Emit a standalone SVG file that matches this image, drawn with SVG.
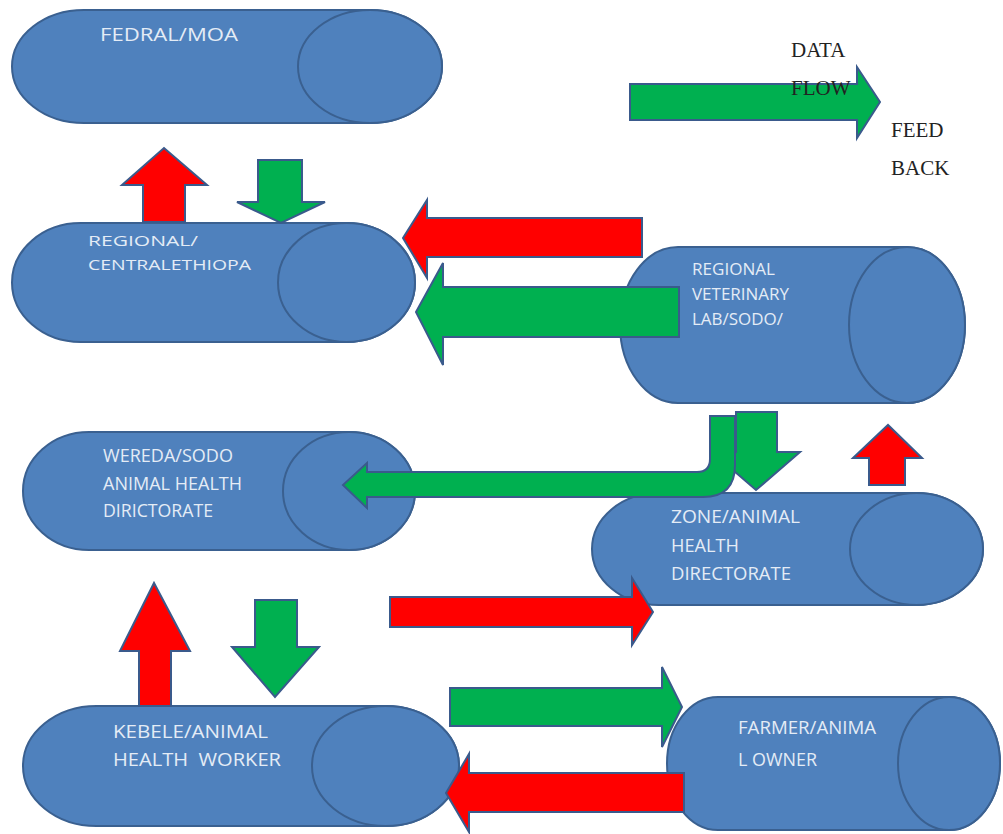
<svg xmlns="http://www.w3.org/2000/svg" width="1003" height="834" viewBox="0 0 1003 834">
<style>
.cyl{fill:#4F81BD;stroke:#3A6090;stroke-width:2}
.lbl{fill:#E4ECF6;font-family:"Open Sans","Liberation Sans",sans-serif;font-size:18px}
.red{fill:#FF0000;stroke:#3A5A8C;stroke-width:2;stroke-linejoin:miter}
.grn{fill:#00B050;stroke:#3A5A8C;stroke-width:2;stroke-linejoin:miter}
.leg{fill:#222;font-family:"Liberation Serif","Times New Roman",serif;font-size:21px}
</style>
<rect width="1003" height="834" fill="#fff"/>

<g id="node-fedral">
<path class="cyl" d="M84,10 H370 A72,56.5 0 0 1 370,123 H84 A72,56.5 0 0 1 84,10 Z"/>
<ellipse class="cyl" cx="370" cy="66.5" rx="72" ry="56.5"/>
<text class="lbl" x="100" y="41" textLength="138" lengthAdjust="spacingAndGlyphs">FEDRAL/MOA</text>
</g>

<g id="node-regional">
<path class="cyl" d="M80.5,223 H346.5 A68.5,59.5 0 0 1 346.5,342 H80.5 A68.5,59.5 0 0 1 80.5,223 Z"/>
<ellipse class="cyl" cx="346.5" cy="282.5" rx="68.5" ry="59.5"/>
<text class="lbl" style="font-size:14px"><tspan x="88" y="246" textLength="110" lengthAdjust="spacingAndGlyphs">REGIONAL/</tspan><tspan x="88" y="270" textLength="163" lengthAdjust="spacingAndGlyphs">CENTRALETHIOPA</tspan></text>
</g>

<g id="node-vetlab">
<path class="cyl" d="M678,247 H907 A58,78 0 0 1 907,403 H678 A58,78 0 0 1 678,247 Z"/>
<ellipse class="cyl" cx="907" cy="325" rx="58" ry="78"/>
<text class="lbl" style="font-size:17px"><tspan x="692" y="275" textLength="83" lengthAdjust="spacingAndGlyphs">REGIONAL</tspan><tspan x="692" y="300" textLength="97" lengthAdjust="spacingAndGlyphs">VETERINARY</tspan><tspan x="692" y="325" textLength="91" lengthAdjust="spacingAndGlyphs">LAB/SODO/</tspan></text>
</g>

<g id="node-wereda">
<path class="cyl" d="M89,432 H349 A66,59 0 0 1 349,550 H89 A66,59 0 0 1 89,432 Z"/>
<ellipse class="cyl" cx="349" cy="491" rx="66" ry="59"/>
<text class="lbl"><tspan x="103" y="462" textLength="130" lengthAdjust="spacingAndGlyphs">WEREDA/SODO</tspan><tspan x="103" y="490" textLength="139" lengthAdjust="spacingAndGlyphs">ANIMAL HEALTH</tspan><tspan x="103" y="517" textLength="110" lengthAdjust="spacingAndGlyphs">DIRICTORATE</tspan></text>
</g>

<g id="node-zone">
<path class="cyl" d="M658.5,493 H916.5 A66.5,56 0 0 1 916.5,605 H658.5 A66.5,56 0 0 1 658.5,493 Z"/>
<ellipse class="cyl" cx="916.5" cy="549" rx="66.5" ry="56"/>
<text class="lbl"><tspan x="671" y="523" textLength="129" lengthAdjust="spacingAndGlyphs">ZONE/ANIMAL</tspan><tspan x="671" y="552" textLength="68" lengthAdjust="spacingAndGlyphs">HEALTH</tspan><tspan x="671" y="580" textLength="120" lengthAdjust="spacingAndGlyphs">DIRECTORATE</tspan></text>
</g>

<g id="node-kebele">
<path class="cyl" d="M96.5,706 H385.5 A73.5,60 0 0 1 385.5,826 H96.5 A73.5,60 0 0 1 96.5,706 Z"/>
<ellipse class="cyl" cx="385.5" cy="766" rx="73.5" ry="60"/>
<text class="lbl" xml:space="preserve"><tspan x="113" y="738" textLength="155" lengthAdjust="spacingAndGlyphs">KEBELE/ANIMAL</tspan><tspan x="113" y="766" textLength="168" lengthAdjust="spacingAndGlyphs">HEALTH  WORKER</tspan></text>
</g>

<g id="node-farmer">
<path class="cyl" d="M718,697 H949 A51,66.5 0 0 1 949,830 H718 A51,66.5 0 0 1 718,697 Z"/>
<ellipse class="cyl" cx="949" cy="763.5" rx="51" ry="66.5"/>
<text class="lbl"><tspan x="738" y="734" textLength="138" lengthAdjust="spacingAndGlyphs">FARMER/ANIMA</tspan><tspan x="738" y="766" textLength="79" lengthAdjust="spacingAndGlyphs">L OWNER</tspan></text>
</g>

<g id="connectors">
<!-- regional -> federal (feedback up) -->
<path class="red" d="M143,222 V185 H122 L164,148 L207,185 H185 V222 Z"/>
<!-- federal -> regional (data down) -->
<path class="grn" d="M258,160 H302 V202 H325 L281,223 L237,202 H258 Z"/>
<!-- vet lab -> regional feedback -->
<path class="red" d="M642,218 V257 H427 V278 L403,238 L427,200 V218 Z"/>
<!-- vet lab -> regional data -->
<path class="grn" d="M679,287 V337 H443 V365 L416,312 L443,263 V287 Z"/>
<!-- vet lab -> zone data -->
<path class="grn" d="M736,412 H777 V452 H800 L756,490 L712,452 H736 Z"/>
<!-- vet lab -> wereda bent data -->
<path class="grn" d="M710,416 H735 V465 Q735,497 703,497 H367 V508 L343,485 L367,463 V472 H697 Q710,472 710,459 Z"/>
<!-- zone -> vet lab feedback -->
<path class="red" d="M869,485 V458 H853 L888,425 L922,458 H905 V485 Z"/>
<!-- wereda -> zone feedback -->
<path class="red" d="M390,597 H632 V578 L653,612 L632,645 V627 H390 Z"/>
<!-- kebele -> wereda feedback -->
<path class="red" d="M139,706 V651 H120 L154,583 L190,651 H171 V706 Z"/>
<!-- wereda -> kebele data -->
<path class="grn" d="M255,600 H297 V647 H319 L275,697 L232,647 H255 Z"/>
<!-- kebele -> farmer data -->
<path class="grn" d="M450,688 H662 V667 L682,707 L662,747 V726 H450 Z"/>
<!-- farmer -> kebele feedback -->
<path class="red" d="M684,773 V812 H469 V832 L446,793 L469,754 V773 Z"/>
</g>

<g id="legend">
<text class="leg" x="791" y="57">DATA</text>
<path class="grn" d="M630,84 H857 V67 L880,102 L857,138 V120 H630 Z"/>
<text class="leg" x="791" y="95">FLOW</text>
<text class="leg" x="891" y="137">FEED</text>
<text class="leg" x="891" y="175">BACK</text>
</g>
</svg>
